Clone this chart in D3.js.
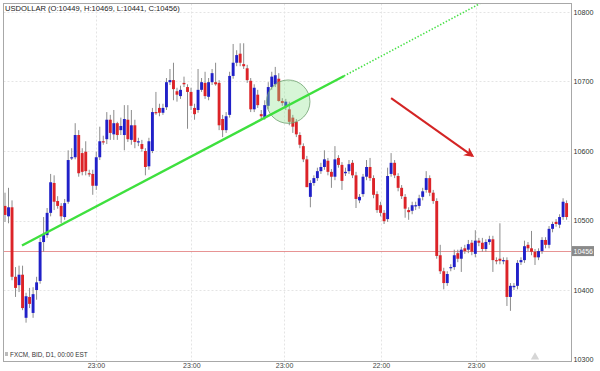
<!DOCTYPE html>
<html><head><meta charset="utf-8">
<script src="https://cdn.jsdelivr.net/npm/d3@7/dist/d3.min.js"></script>
<style>html,body{margin:0;padding:0;background:#fff;}svg{display:block;font-family:"Liberation Sans",Arial,Helvetica,sans-serif;}</style>
</head><body>
<svg id="c" width="600" height="371"></svg>
<script>
const title = "USDOLLAR (O:10449, H:10469, L:10441, C:10456)";
const footer = "FXCM, BID, D1, 00:00 EST";
const opens  = [10521,10506,10519,10419,10407,10422,10360,10390,10367,10400,10413,10469,10479,10511,10554,10528,10521,10505,10527,10590,10591,10623,10597,10599,10568,10567,10550,10591,10614,10617,10645,10624,10640,10630,10623,10645,10616,10637,10613,10610,10600,10578,10600,10656,10662,10655,10663,10699,10702,10686,10679,10698,10692,10685,10662,10659,10688,10698,10678,10699,10699,10698,10646,10630,10652,10708,10727,10740,10725,10719,10701,10660,10681,10653,10648,10665,10692,10696,10704,10672,10663,10660,10648,10642,10623,10607,10588,10534,10554,10561,10571,10577,10586,10570,10563,10590,10580,10568,10571,10583,10565,10529,10538,10563,10577,10561,10538,10522,10511,10502,10567,10583,10564,10547,10534,10515,10514,10521,10521,10534,10544,10561,10540,10528,10450,10427,10410,10432,10433,10453,10445,10460,10458,10468,10452,10471,10468,10459,10469,10473,10443,10445,10442,10443,10390,10404,10406,10440,10443,10465,10460,10455,10447,10456,10472,10465,10488,10498,10494,10505,10525];
const highs  = [10540,10547,10529,10433,10435,10435,10396,10403,10404,10419,10475,10505,10518,10567,10565,10535,10525,10531,10601,10604,10640,10630,10604,10614,10573,10573,10599,10635,10622,10656,10652,10659,10642,10648,10666,10666,10659,10645,10619,10616,10604,10619,10662,10685,10668,10668,10705,10718,10727,10691,10694,10707,10696,10691,10668,10718,10705,10714,10705,10718,10727,10702,10652,10656,10714,10754,10745,10755,10755,10724,10705,10696,10688,10659,10673,10699,10714,10721,10712,10676,10675,10671,10652,10646,10627,10611,10593,10558,10565,10576,10583,10601,10590,10574,10607,10594,10584,10576,10587,10587,10570,10538,10567,10587,10590,10565,10542,10527,10515,10576,10597,10587,10568,10551,10538,10519,10527,10527,10537,10547,10571,10565,10544,10532,10465,10432,10427,10437,10458,10458,10462,10465,10472,10472,10486,10475,10475,10473,10478,10478,10447,10496,10447,10447,10410,10410,10443,10447,10471,10469,10485,10459,10460,10476,10476,10492,10498,10502,10509,10532,10529];
const lows   = [10498,10496,10414,10390,10397,10371,10353,10374,10360,10386,10409,10455,10475,10506,10515,10517,10496,10501,10524,10587,10588,10563,10565,10565,10563,10537,10544,10587,10609,10610,10616,10616,10616,10623,10601,10613,10609,10604,10607,10599,10565,10573,10597,10652,10650,10652,10659,10695,10673,10671,10675,10692,10632,10659,10645,10655,10685,10675,10673,10695,10694,10630,10620,10626,10648,10704,10722,10722,10718,10698,10656,10656,10662,10646,10645,10660,10688,10692,10671,10665,10659,10637,10626,10620,10604,10584,10548,10519,10550,10557,10567,10573,10565,10547,10558,10576,10544,10564,10567,10561,10518,10525,10534,10558,10557,10532,10511,10506,10495,10498,10563,10561,10542,10531,10504,10501,10509,10515,10517,10529,10540,10535,10524,10445,10423,10401,10406,10427,10429,10440,10426,10452,10453,10450,10447,10463,10455,10455,10465,10426,10437,10437,10437,10377,10370,10400,10401,10436,10439,10456,10450,10436,10443,10452,10460,10460,10483,10491,10489,10501,10501];
const closes = [10508,10519,10419,10403,10422,10374,10391,10380,10394,10411,10469,10479,10511,10555,10527,10521,10506,10525,10587,10591,10623,10568,10570,10571,10567,10550,10591,10614,10613,10645,10626,10640,10623,10636,10646,10617,10637,10613,10614,10603,10577,10614,10656,10655,10655,10662,10699,10702,10689,10681,10688,10696,10685,10665,10653,10688,10699,10679,10699,10712,10696,10637,10630,10650,10708,10727,10738,10727,10722,10702,10660,10691,10666,10650,10666,10692,10707,10709,10672,10669,10671,10642,10635,10624,10609,10588,10548,10554,10561,10571,10577,10588,10570,10563,10588,10580,10557,10570,10581,10565,10531,10534,10563,10577,10561,10537,10515,10511,10499,10564,10583,10565,10547,10535,10517,10512,10522,10522,10532,10542,10561,10540,10528,10449,10427,10410,10423,10433,10450,10445,10458,10456,10466,10455,10471,10468,10459,10469,10473,10443,10442,10442,10443,10390,10406,10406,10439,10443,10463,10460,10455,10447,10456,10472,10465,10488,10495,10495,10505,10527,10505];
const yTicks = [10300,10400,10500,10600,10700,10800];
const xTickIdx = [25.9,53.1,79.5,107.1,134.2];
const xTickLabels = ["23:00","23:00","23:00","22:00","23:00"];
const lastPrice = 10456;
const trendSolid = [[4.84,10464],[96.6,10708]];
const trendDotted = [[96.6,10708],[135.3,10812]];
const circleAt = [80.7,10671];
const arrowLine = [[110,10676],[133.2,10593]];

const svg = d3.select("#c");
const L = 3.5, R = 571.5, T = 3.5, B = 361.5;
const x = d3.scaleLinear().domain([0,160]).range([5,566.6]);
const y = d3.scaleLinear().domain([10300,10800]).range([359.5,12]);

const defs = svg.append("defs");
defs.append("clipPath").attr("id","clip").append("rect")
  .attr("x",L).attr("y",T).attr("width",R-L).attr("height",B-T);

// grid
const g = svg.append("g");
g.selectAll("line.hg").data(yTicks.filter(v=>v>10300)).enter().append("line")
  .attr("x1",L).attr("x2",R).attr("y1",d=>Math.round(y(d))+0.5).attr("y2",d=>Math.round(y(d))+0.5)
  .attr("stroke","#e4e4e4").attr("stroke-dasharray","2,2");
g.selectAll("line.vg").data(xTickIdx).enter().append("line")
  .attr("x1",d=>Math.round(x(d))+0.5).attr("x2",d=>Math.round(x(d))+0.5).attr("y1",T).attr("y2",B)
  .attr("stroke","#e4e4e4").attr("stroke-dasharray","2,2");

// last price line
svg.append("line").attr("x1",L).attr("x2",R)
  .attr("y1",Math.round(y(lastPrice))+0.5).attr("y2",Math.round(y(lastPrice))+0.5)
  .attr("stroke","#e27a7a").attr("stroke-width",1).attr("opacity",0.8);

const data = opens.map((o,i)=>({i,o,h:highs[i],l:lows[i],c:closes[i]}));
const cg = svg.append("g").attr("clip-path","url(#clip)");
cg.selectAll("line.w").data(data).enter().append("line")
  .attr("x1",d=>x(d.i)).attr("x2",d=>x(d.i)).attr("y1",d=>y(d.h)).attr("y2",d=>y(d.l))
  .attr("stroke","#8c8c8c").attr("stroke-width",1);
const bw = 2.9;
cg.selectAll("rect.b").data(data).enter().append("rect")
  .attr("x",d=>x(d.i)-bw/2).attr("width",bw)
  .attr("y",d=>y(Math.max(d.o,d.c)))
  .attr("height",d=>Math.max(1.2,Math.abs(y(d.o)-y(d.c))))
  .attr("fill",d=>d.c>=d.o?"#2020c8":"#dc2328");

// circle annotation
cg.append("circle").attr("cx",x(circleAt[0])).attr("cy",y(circleAt[1])).attr("r",21.7)
  .attr("fill","rgba(140,225,140,0.35)").attr("stroke","#6f9f6f").attr("stroke-width",0.8);

// trend line
const ln = d3.line().x(d=>x(d[0])).y(d=>y(d[1]));
cg.append("path").attr("d",ln(trendSolid)).attr("stroke","#3ee03e").attr("stroke-width",2.4).attr("fill","none");
cg.append("path").attr("d",ln(trendDotted)).attr("stroke","#44e044").attr("stroke-width",1.6)
  .attr("stroke-dasharray","1.4,1.8").attr("fill","none");

// arrow
defs.append("marker").attr("id","ah").attr("viewBox","0 0 10 10")
  .attr("refX",8).attr("refY",5).attr("markerWidth",5).attr("markerHeight",5)
  .attr("markerUnits","strokeWidth").attr("orient","auto")
  .append("path").attr("d","M0,0 L10,5 L0,10 L3,5 Z").attr("fill","#d42424");
svg.append("path").attr("d",ln(arrowLine)).attr("stroke","#d42424").attr("stroke-width",2)
  .attr("fill","none").attr("marker-end","url(#ah)");

// frame
svg.append("rect").attr("x",L).attr("y",T).attr("width",R-L).attr("height",B-T)
  .attr("fill","none").attr("stroke","#a8a8a8").attr("stroke-width",1);

// right axis
const ya = d3.axisRight(y).tickValues(yTicks).tickSize(0).tickPadding(2).tickFormat(d3.format("d"));
const yag = svg.append("g").attr("transform",`translate(${R},0)`).call(ya);
yag.select(".domain").remove();
yag.selectAll("text").attr("font-size",7.2).attr("fill","#333").attr("font-family","Liberation Sans, Arial, sans-serif");

// last price label
const lpY = y(lastPrice);
svg.append("rect").attr("x",R+0.5).attr("y",lpY-5).attr("width",22).attr("height",10).attr("fill","#8a8a8a");
svg.append("text").attr("x",R+2).attr("y",lpY+2.5).attr("font-size",7).attr("fill","#fff").text(lastPrice);

// bottom axis
const xa = d3.axisBottom(x).tickValues(xTickIdx).tickSize(0).tickPadding(2)
  .tickFormat((d,i)=>xTickLabels[i]);
const xag = svg.append("g").attr("transform",`translate(0,${B})`).call(xa);
xag.select(".domain").remove();
xag.selectAll("text").attr("font-size",7).attr("fill","#444").attr("font-family","Liberation Sans, Arial, sans-serif");

// title & footer
svg.append("text").attr("x",5).attr("y",10.5).attr("font-size",7.6).attr("fill","#222").text(title);
svg.append("rect").attr("x",5).attr("y",352).attr("width",3).attr("height",4).attr("fill","#bbb");
svg.append("text").attr("x",10).attr("y",357).attr("font-size",6.4).attr("fill","#333").text(footer);

// small triangle marker
svg.append("path").attr("d",d3.symbol(d3.symbolTriangle,30)()).attr("transform","translate(535,357)")
  .attr("fill","#d6d6d6");
</script>
</body></html>
